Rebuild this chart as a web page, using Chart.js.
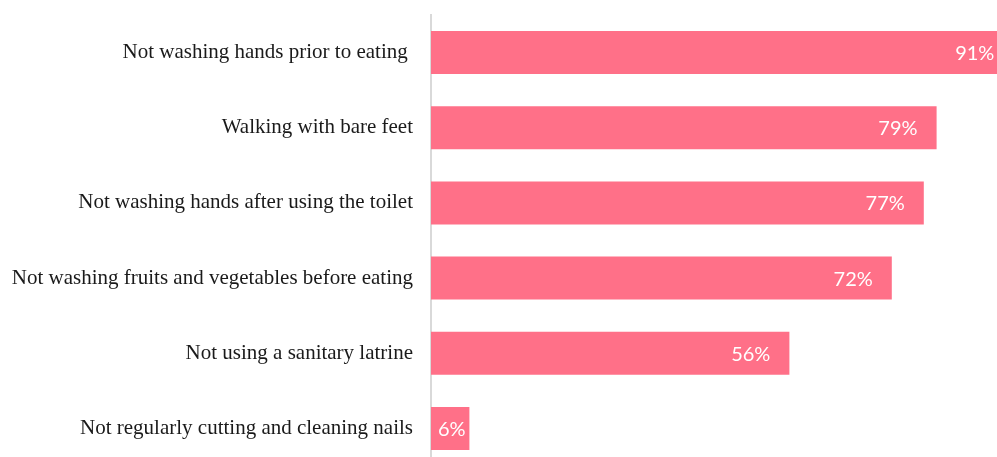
<!DOCTYPE html>
<html>
<head>
<meta charset="utf-8">
<script src="https://cdn.jsdelivr.net/npm/chart.js@4/dist/chart.umd.min.js"></script>
<style>
  html, body { margin: 0; padding: 0; background: #ffffff; overflow: hidden; }
  #wrap { position: absolute; left: 0; top: 0; }
</style>
</head>
<body>
<div id="wrap"><canvas id="c" width="1071" height="466"></canvas></div>
<script>
// Share of respondents reporting each practice (%)
const categories = [
  'Not washing hands prior to eating ',
  'Walking with bare feet',
  'Not washing hands after using the toilet',
  'Not washing fruits and vegetables before eating',
  'Not using a sanitary latrine',
  'Not regularly cutting and cleaning nails'
];
const values = [91, 79, 77, 72, 56, 6];

// Value labels drawn inside the end of each bar
const valueLabels = {
  id: 'valueLabels',
  afterDatasetsDraw(chart) {
    const ctx = chart.ctx;
    const meta = chart.getDatasetMeta(0);
    ctx.save();
    ctx.font = '20px Lato';
    ctx.fillStyle = '#ffffff';
    ctx.textAlign = 'right';
    ctx.textBaseline = 'middle';
    meta.data.forEach((bar, i) => {
      const text = values[i] + '%';
      const w = ctx.measureText(text).width;
      const x = Math.max(bar.x - 19, bar.base + 7 + w);
      ctx.fillText(text, x, bar.y + 1);
    });
    ctx.restore();
  }
};

new Chart(document.getElementById('c'), {
  type: 'bar',
  data: {
    labels: categories,
    datasets: [{
      data: values,
      backgroundColor: '#ff7088',
      borderWidth: 0,
      categoryPercentage: 1,
      barPercentage: 0.572
    }]
  },
  options: {
    indexAxis: 'y',
    responsive: false,
    animation: false,
    devicePixelRatio: 1,
    layout: { padding: { top: 15, right: 0, bottom: 0, left: 0 } },
    plugins: { legend: { display: false }, tooltip: { enabled: false } },
    scales: {
      x: { display: false, min: 0, max: 100 },
      y: {
        grid: { display: false, drawTicks: false },
        border: { display: true, color: '#d9d9d9', width: 2 },
        ticks: {
          color: '#1a1a1a',
          font: { family: 'Liberation Serif', size: 21 },
          padding: 18,
          autoSkip: false
        },
        afterFit(scale) {
          scale.width = 431;
          scale.paddingTop = 0;
          scale.paddingBottom = 0;
        }
      }
    }
  },
  plugins: [valueLabels]
});
</script>
</body>
</html>
